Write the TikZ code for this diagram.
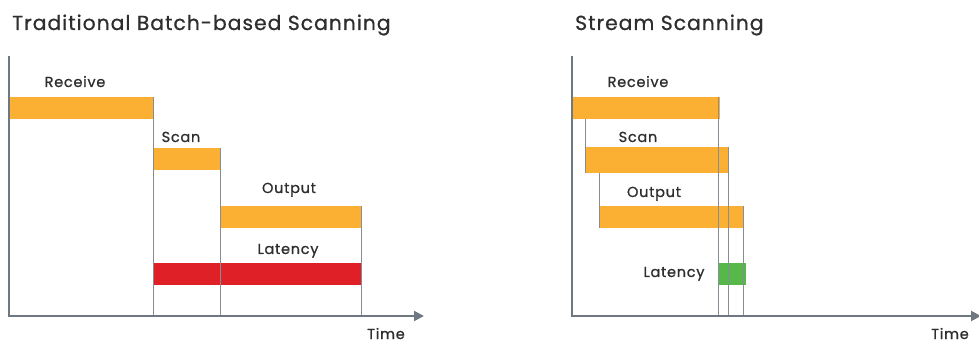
\documentclass[tikz,border=0pt]{standalone}
\usepackage{fontspec}
\setmainfont{Poppins}
\newfontfamily\chartfont{Poppins}[LetterSpace=5, FakeBold=0.8]
\usetikzlibrary{arrows.meta}

\definecolor{barorange}{HTML}{FBB034}
\definecolor{barred}{HTML}{E02027}
\definecolor{bargreen}{HTML}{55B848}
\definecolor{axisgray}{HTML}{6F7780}
\definecolor{guidegray}{HTML}{868D95}
\definecolor{inkgray}{HTML}{2E2E2E}

\tikzset{
  bar/.style={fill=barorange, minimum height=22, inner sep=0, outer sep=0, anchor=north west},
  lbl/.style={text=inkgray, font=\chartfont\fontsize{14.5}{16}\selectfont, anchor=base, inner sep=0},
  ttl/.style={text=inkgray, font=\chartfont\fontsize{20.3}{22}\selectfont, anchor=base west, inner sep=0},
  axis/.style={draw=axisgray, line width=2, -{Triangle[length=10,width=10]}},
  guide/.style={draw=guidegray, line width=0.9},
}

\begin{document}
\begin{tikzpicture}[x=1pt,y=-1pt]
  \useasboundingbox (0,0) rectangle (979,344);

  % batch-based
  \node[ttl] (titleA) at (12,30) {Traditional Batch-based Scanning};
  \coordinate (oA) at (9,316);
  \coordinate (topA) at (9,56);
  \coordinate (endA) at (424,316);

  \node[bar, minimum width=143] (recvA) at (10,97) {};
  \node[bar, minimum width=67]  (scanA) at (153,148) {};
  \node[bar, minimum width=141] (outA)  at (220,206) {};
  \node[bar, minimum width=208, fill=barred] (latA) at (153,263) {};

  \draw[guide] (recvA.north east) -- (recvA.north east |- oA);
  \draw[guide] (scanA.north east) -- (scanA.north east |- oA);
  \draw[guide] (outA.north east)  -- (outA.north east |- oA);

  \draw[axis] (topA) -- (oA) -- (endA);

  \begin{scope}[every node/.style={lbl}]
    \node (recvlblA) at (75,87)  {Receive};
    \node (scanlblA) at (181,142) {Scan};
    \node (outlblA)  at (289,193) {Output};
    \node (latlblA)  at (288,254) {Latency};
    \node (timeA)    at (386,339) {Time};
  \end{scope}

  % stream
  \node[ttl] (titleB) at (575,30) {Stream Scanning};
  \coordinate (oB) at (572,316);
  \coordinate (topB) at (572,56);
  \coordinate (endB) at (981,316);

  \node[bar, minimum width=147] (recvB) at (573,97) {};
  \node[bar, minimum width=143, minimum height=26] (scanB) at (585,147) {};
  \node[bar, minimum width=144] (outB)  at (599,206) {};
  \node[bar, minimum width=28, fill=bargreen] (latB) at (718,263) {};

  \draw[guide] (scanB.south west) -- (scanB.south west |- recvB.south);
  \draw[guide] (outB.south west)  -- (outB.south west |- scanB.south);
  \draw[guide] ([xshift=-2]recvB.north east) -- ([xshift=-2]recvB.north east |- oB);
  \draw[guide] (scanB.north east) -- (scanB.north east |- oB);
  \draw[guide] (outB.north east)  -- (outB.north east |- oB);

  \draw[axis] (topB) -- (oB) -- (endB);

  \begin{scope}[every node/.style={lbl}]
    \node (recvlblB) at (638,87)  {Receive};
    \node (scanlblB) at (638,142) {Scan};
    \node (outlblB)  at (654,197) {Output};
    \node (latlblB)  at (674,277) {Latency};
    \node (timeB)    at (950,339) {Time};
  \end{scope}

\end{tikzpicture}
\end{document}
